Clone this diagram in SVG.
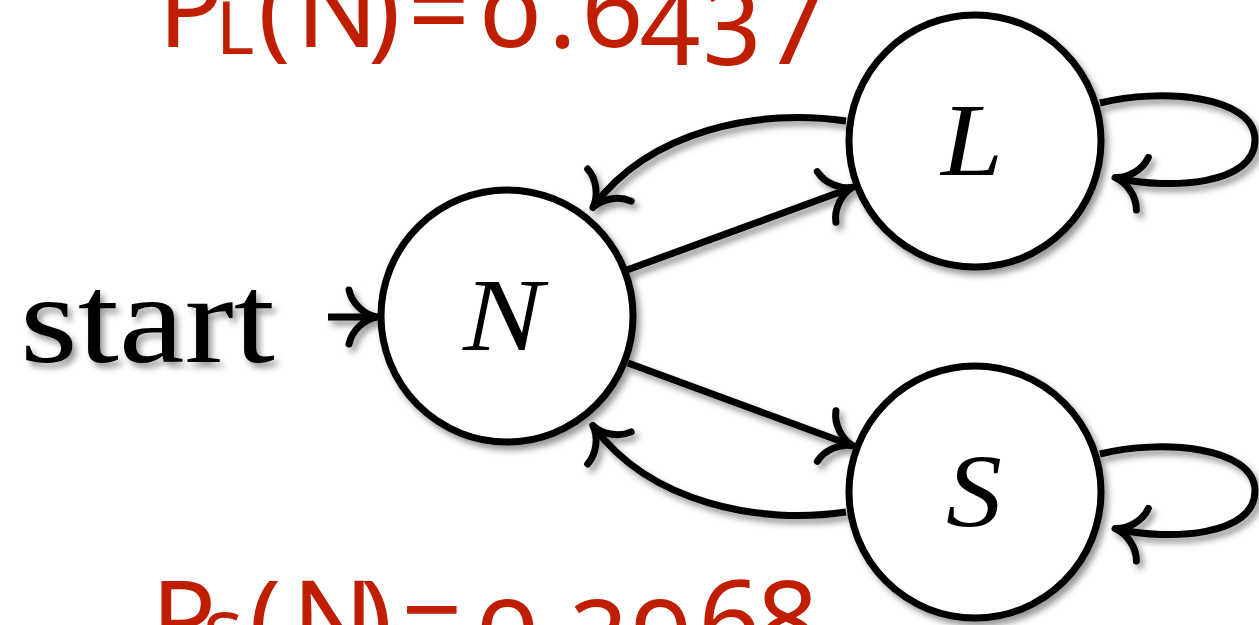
<svg xmlns="http://www.w3.org/2000/svg" width="1259" height="625" viewBox="0 0 1259 625">
  <style>
    .state { fill: #fff; stroke: #000; stroke-width: 7; }
    .edge { fill: none; stroke: #000; stroke-width: 7; stroke-linecap: butt; marker-end: url(#cm-to); }
    .math { font-family: "Liberation Serif", "DejaVu Serif", serif; font-style: italic; font-size: 103px; fill: #000; text-anchor: middle; }
    .roman { font-family: "Liberation Serif", "DejaVu Serif", serif; font-size: 128px; fill: #000; }
    .prob { font-family: "Noto Sans", "Open Sans", sans-serif; font-size: 108px; fill: #BF1E00; font-variant-numeric: oldstyle-nums; font-feature-settings: "onum" 1; }
    .sub { font-size: 73px; }
  </style>
  <defs>
    <!-- curved-barb arrow tip, drawn in user units so it keeps its size -->
    <marker id="cm-to" markerUnits="userSpaceOnUse" orient="auto" refX="0" refY="0" markerWidth="80" markerHeight="80" viewBox="-40 -40 80 80" overflow="visible">
      <path d="M -26,-27 C -23,-13 -10,-2 2,0 C -10,2 -23,13 -26,27" fill="none" stroke="#000" stroke-width="7" stroke-linecap="round" stroke-linejoin="round"/>
    </marker>
    <filter id="shadow" x="-10%" y="-10%" width="130%" height="130%">
      <feDropShadow dx="4" dy="5" stdDeviation="3" flood-color="#000" flood-opacity="0.4"/>
    </filter>
  </defs>
  <rect width="1259" height="625" fill="#fff"/>

  <g filter="url(#shadow)">
    <!-- initial-state label -->
    <g id="start-label">
      <text class="roman" x="20" y="362" textLength="255" lengthAdjust="spacingAndGlyphs">start</text>
    </g>

    <!-- transitions -->
    <g id="connectors">
      <path id="edge-start-N" class="edge" d="M 328,317 L 375,317"/>
      <path id="edge-N-L" class="edge" d="M 627,270 L 851,188"/>
      <path id="edge-L-N" class="edge" d="M 846,121 C 760,108 650,130 594,206"/>
      <path id="edge-N-S" class="edge" d="M 628,363 L 851,445"/>
      <path id="edge-S-N" class="edge" d="M 846,512 C 760,525 650,503 594,427"/>
      <path id="edge-L-L" class="edge" d="M 1100,103 C 1160,88 1255,95 1255,140 C 1255,185 1170,190 1117,178"/>
      <path id="edge-S-S" class="edge" d="M 1100,454 C 1160,439 1255,446 1255,491 C 1255,536 1170,541 1117,529"/>
    </g>

    <!-- states -->
    <g id="node-N">
      <circle class="state" cx="507" cy="316" r="126"/>
      <text class="math" x="503" y="350" textLength="80" lengthAdjust="spacingAndGlyphs">N</text>
    </g>
    <g id="node-L">
      <circle class="state" cx="975" cy="141" r="126"/>
      <text class="math" x="972" y="175" textLength="62" lengthAdjust="spacingAndGlyphs">L</text>
    </g>
    <g id="node-S">
      <circle class="state" cx="975" cy="492" r="126"/>
      <text class="math" x="974" y="526" textLength="56" lengthAdjust="spacingAndGlyphs">S</text>
    </g>
  </g>

  <!-- stationary probabilities -->
  <g id="prob-L">
    <text class="prob" y="47"><tspan x="158">P</tspan><tspan class="sub" x="216" y="54">L</tspan><tspan x="258 296 368 408 481 548 583 641 703 765" y="47">(N)=0.6437</tspan></text>
  </g>
  <g id="prob-S">
    <text class="prob" y="658"><tspan x="151">P</tspan><tspan class="sub" x="203" y="665">S</tspan><tspan x="249 292 360 401 478 545 570 632 700 758" y="658">(N)=0.3968</tspan></text>
  </g>
</svg>
